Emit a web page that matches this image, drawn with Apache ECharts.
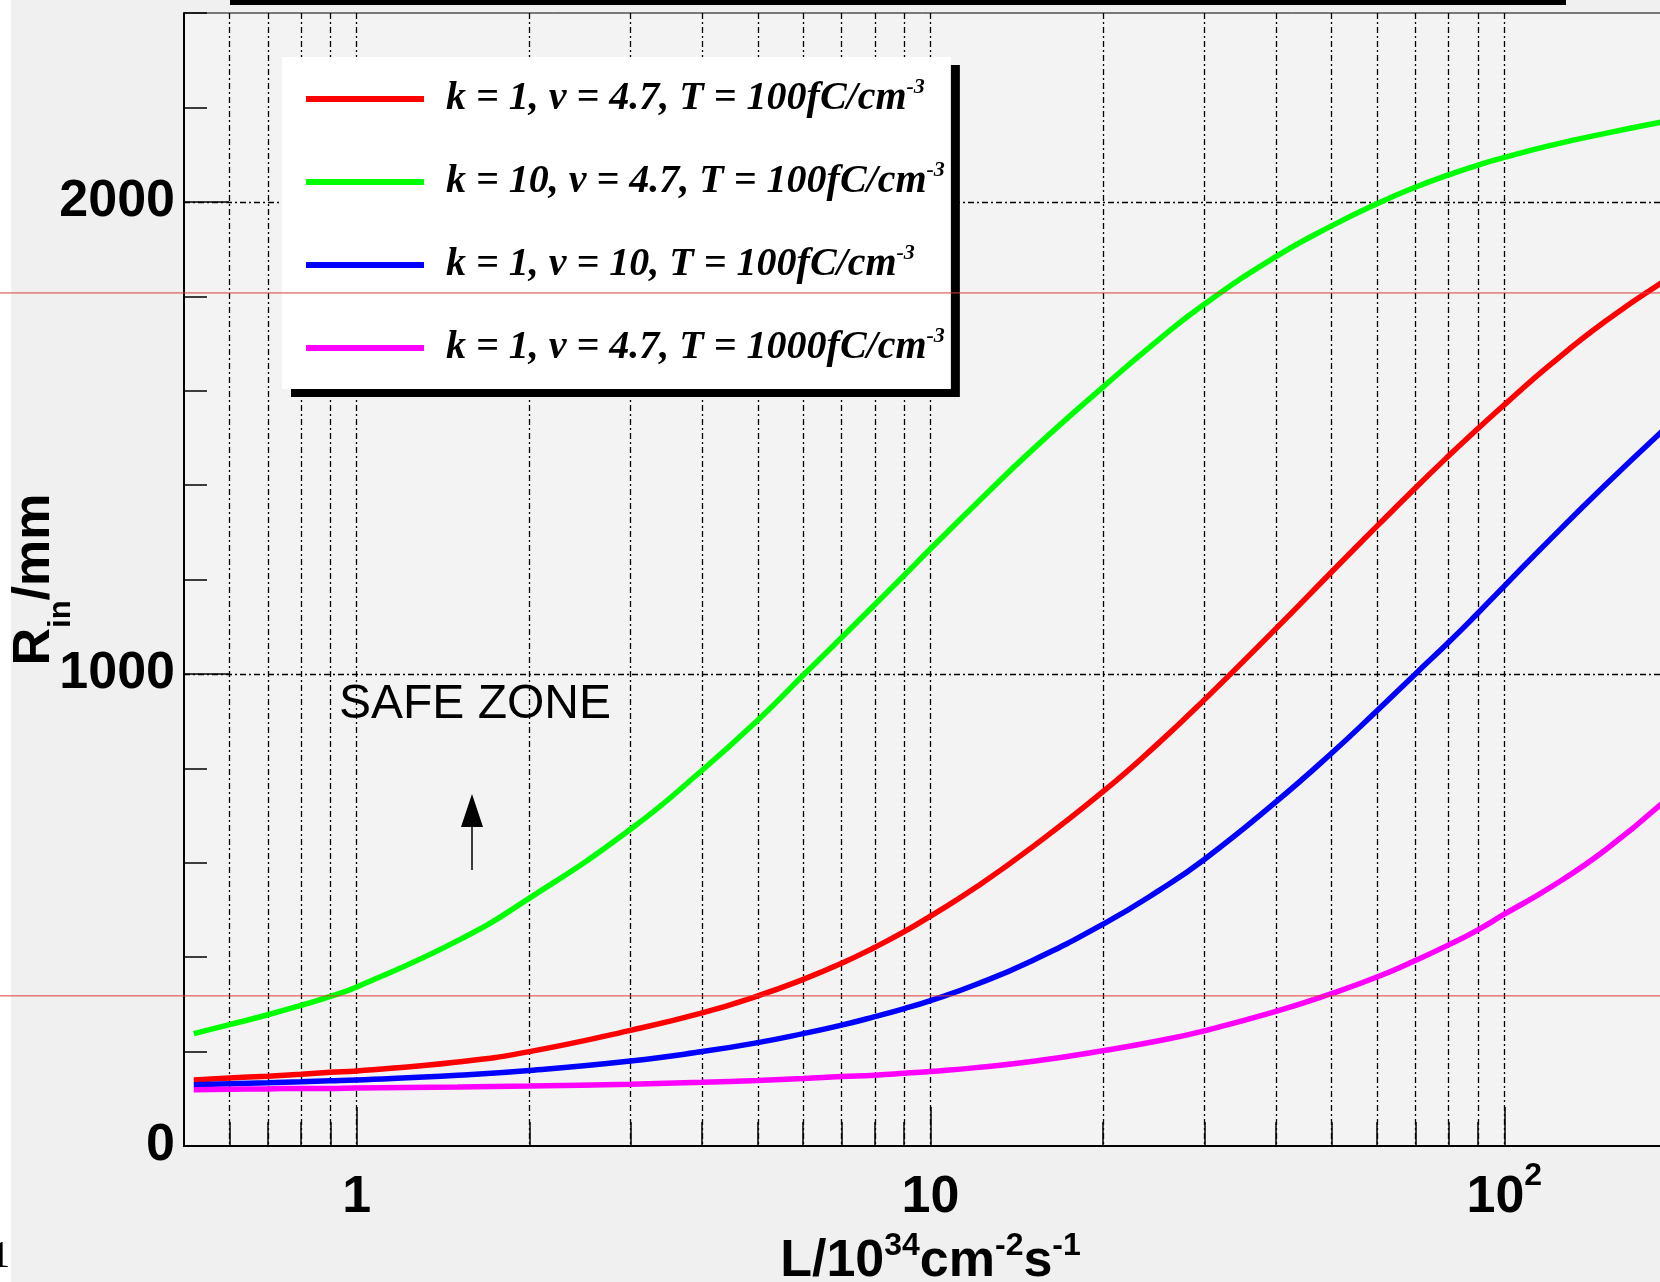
<!DOCTYPE html>
<html>
<head>
<meta charset="utf-8">
<title>Rin vs luminosity</title>
<script src="https://cdn.jsdelivr.net/npm/echarts@6.0.0/dist/echarts.min.js"></script>
<style>
  html, body { margin: 0; padding: 0; background: #f0f0f0; }
  #chart { width: 1660px; height: 1282px; }
</style>
</head>
<body>
<div id="chart"></div>
<script>
// luminosity L / 10^34 cm^-2 s^-1
const lumi = [0.52, 0.6, 0.7, 0.8, 0.9, 1, 1.5, 2, 3, 4, 5, 6, 7, 8, 9, 10, 12, 15, 20, 25, 30, 40, 50, 60, 70, 80, 90, 100, 120, 150, 190];

// R_in / mm
const rK1 = [140, 144, 148, 152, 156, 159, 178, 200, 245, 282, 318, 353, 387, 421, 454, 487, 548, 632, 751, 854, 945, 1096, 1216, 1313, 1394, 1462, 1520, 1570, 1654, 1747, 1832];
const rK10 = [238, 257, 278, 298, 317, 337, 435, 525, 671, 796, 902, 997, 1077, 1147, 1209, 1265, 1360, 1473, 1608, 1708, 1783, 1884, 1949, 1996, 2031, 2057, 2078, 2094, 2119, 2145, 2170];
const rV10 = [130, 132, 134, 136, 138, 140, 150, 160, 180, 200, 219, 238, 256, 274, 291, 308, 342, 392, 470, 541, 607, 729, 832, 922, 1000, 1067, 1129, 1186, 1284, 1400, 1518];
const rT1000 = [119, 120, 121, 122, 122, 123, 125, 127, 131, 135, 139, 143, 147, 150, 154, 158, 166, 179, 202, 223, 244, 285, 323, 358, 393, 426, 458, 491, 547, 627, 730];

const seriesNames = [
  "k = 1, v = 4.7, T = 100fC/cm-3",
  "k = 10, v = 4.7, T = 100fC/cm-3",
  "k = 1, v = 10, T = 100fC/cm-3",
  "k = 1, v = 4.7, T = 1000fC/cm-3",
];
const seriesColors = ["#ff0000", "#00ff00", "#0000ff", "#ff00ff"];
const seriesValues = [rK1, rK10, rV10, rT1000];

const xMajorTicks = [1, 10, 100];
const xMinorTicks = [0.6, 0.7, 0.8, 0.9, 1, 2, 3, 4, 5, 6, 7, 8, 9, 10, 20, 30, 40, 50, 60, 70, 80, 90, 100];

// thin red guide lines (values in mm)
const guideLines = [1807, 318];

const chart = echarts.init(document.getElementById("chart"));

const boldSans = { fontFamily: "Liberation Sans", fontWeight: "bold", color: "#000" };
const dashed = { type: [6, 3, 2, 3], color: "#000", width: 1.3 };

chart.setOption({
  animation: false,
  backgroundColor: "#f0f0f0",
  grid: {
    left: 184,
    top: 13,
    right: -17,
    bottom: 136,
    show: true,
    backgroundColor: "#f3f3f3",
    borderColor: "#000",
    borderWidth: 1,
    containLabel: false,
    outerBoundsMode: "none",
  },
  legend: {
    orient: "vertical",
    left: 282,
    top: 57,
    padding: [19, 6, 18, 24],
    itemGap: 37,
    itemWidth: 118,
    itemHeight: 6,
    icon: "rect",
    backgroundColor: "#fff",
    shadowColor: "#000",
    shadowBlur: 0,
    shadowOffsetX: 9,
    shadowOffsetY: 8,
    data: seriesNames,
    formatter: function (name) {
      return name.replace("cm-3", "cm{sup|-3}");
    },
    textStyle: {
      fontFamily: "Liberation Serif",
      fontStyle: "italic",
      fontWeight: "bold",
      fontSize: 40,
      lineHeight: 46,
      color: "#000",
      padding: [0, 0, 0, 17],
      rich: {
        sup: {
          fontFamily: "Liberation Serif",
          fontStyle: "italic",
          fontWeight: "bold",
          fontSize: 22,
          lineHeight: 22,
          verticalAlign: "top",
          color: "#000",
        },
      },
    },
  },
  xAxis: [
    {
      type: "log",
      logBase: 10,
      min: 0.5,
      max: 200,
      position: "bottom",
      axisLine: { show: true, onZero: false, lineStyle: { color: "#000", width: 2 } },
      axisTick: { show: true, inside: true, length: 39, customValues: xMajorTicks, lineStyle: { color: "#000", width: 1.5 } },
      axisLabel: {
        customValues: xMajorTicks,
        margin: 14,
        fontSize: 52,
        lineHeight: 76,
        ...boldSans,
        formatter: function (v) {
          const p = Math.round(Math.log10(v));
          if (p === 0) return "1";
          if (p === 1) return "10";
          return "10{sup|" + p + "}";
        },
        rich: {
          sup: { ...boldSans, fontSize: 32, lineHeight: 32, verticalAlign: "top" },
        },
      },
      splitLine: { show: false },
      name: "{m|L/10}{sup|34}{m|cm}{sup|-2}{m|s}{sup|-1}",
      nameLocation: "middle",
      nameGap: 84,
      nameMoveOverlap: false,
      nameTextStyle: {
        ...boldSans,
        fontSize: 52,
        rich: {
          m: { ...boldSans, fontSize: 52, lineHeight: 64 },
          sup: { ...boldSans, fontSize: 32, lineHeight: 32, verticalAlign: "top" },
        },
      },
    },
    {
      type: "log",
      logBase: 10,
      min: 0.5,
      max: 200,
      position: "bottom",
      axisLine: { show: false, onZero: false },
      axisLabel: { show: false },
      axisTick: { show: true, inside: true, length: 24, customValues: xMinorTicks, lineStyle: { color: "#000", width: 1.5 } },
      splitLine: { show: true, lineStyle: dashed },
    },
  ],
  yAxis: [
    {
      type: "value",
      min: 0,
      max: 2400,
      interval: 1000,
      position: "left",
      axisLine: { show: true, onZero: false, lineStyle: { color: "#000", width: 2 } },
      axisTick: { show: true, inside: true, length: 45, lineStyle: { color: "#000", width: 1.5 } },
      axisLabel: {
        showMaxLabel: false,
        margin: 9,
        fontSize: 52,
        ...boldSans,
        formatter: function (v) {
          return String(v);
        },
      },
      splitLine: { show: true, showMinLine: false, showMaxLine: false, lineStyle: dashed },
      name: "{m|R}{sub|in}{m|/mm}",
      nameLocation: "middle",
      nameGap: 123,
      nameMoveOverlap: false,
      nameTextStyle: {
        ...boldSans,
        fontSize: 52,
        rich: {
          m: { ...boldSans, fontSize: 52, lineHeight: 52, verticalAlign: "top" },
          sub: { ...boldSans, fontSize: 31, lineHeight: 31, padding: [37, 0, 0, 0], verticalAlign: "top" },
        },
      },
    },
    {
      type: "value",
      min: 0,
      max: 2400,
      interval: 200,
      position: "left",
      offset: 0,
      axisLine: { show: false },
      axisLabel: { show: false },
      axisTick: { show: true, inside: true, length: 23, lineStyle: { color: "#000", width: 1.5 } },
      splitLine: { show: false },
    },
  ],
  series: seriesNames.map(function (name, i) {
    return {
      name: name,
      type: "line",
      xAxisIndex: 0,
      yAxisIndex: 0,
      color: seriesColors[i],
      showSymbol: false,
      smooth: 0.5,
      lineStyle: { width: 5.5, color: seriesColors[i] },
      data: lumi.map(function (l, j) {
        return [l, seriesValues[i][j]];
      }),
    };
  }),
});

// decorations: cut title box shadow, white strip, stray glyph, safe zone note,
// and the two red guide lines placed through the y axis
const guideY = guideLines.map(function (v) {
  return chart.convertToPixel({ yAxisIndex: 0 }, v);
});

chart.setOption({
  graphic: [
    { type: "rect", shape: { x: 230, y: 0, width: 1336, height: 5 }, style: { fill: "#000" }, z: 10 },
    { type: "rect", shape: { x: 0, y: 0, width: 11, height: 1282 }, style: { fill: "#fff" }, z: 10 },
    { type: "text", x: -9, y: 1276, style: { text: "1", font: "38px 'Liberation Serif'", fill: "#000", textVerticalAlign: "bottom" }, z: 11 },
    { type: "text", x: 339, y: 705, style: { text: "SAFE ZONE", font: "48px 'Liberation Sans'", fill: "#000", textVerticalAlign: "middle" }, z: 10 },
    { type: "line", shape: { x1: 472, y1: 870, x2: 472, y2: 826 }, style: { stroke: "#000", lineWidth: 1.5 }, z: 10 },
    { type: "polygon", shape: { points: [[461, 827], [483, 827], [472, 794]] }, style: { fill: "#000" }, z: 10 },
  ].concat(
    guideY.map(function (y) {
      return { type: "line", shape: { x1: 0, y1: y, x2: 1660, y2: y }, style: { stroke: "#e03a3a", lineWidth: 1 }, z: 20 };
    })
  ),
});
</script>
</body>
</html>
